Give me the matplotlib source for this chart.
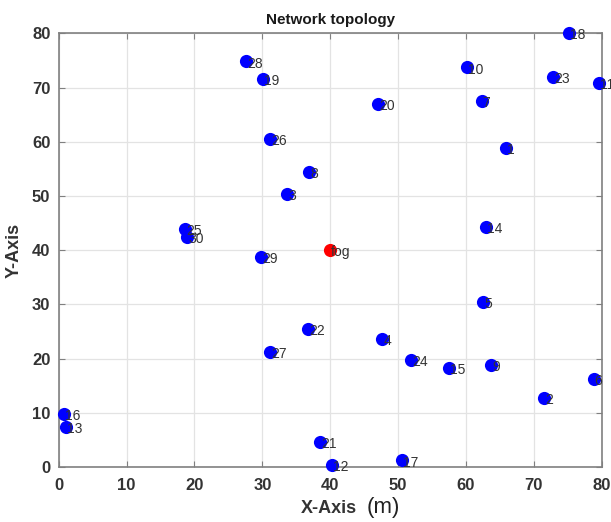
import matplotlib
matplotlib.use("Agg")
import matplotlib.pyplot as plt

# Sensor node positions (m), node i+1 at index i
node_ids = [str(i) for i in range(1, 31)]
node_x = [65.9, 71.5, 33.7, 47.7, 62.5, 78.8, 62.3, 36.9, 63.7, 60.1,
          79.6, 40.2, 1.0, 62.9, 57.5, 0.8, 50.6, 75.2, 30.05, 47.1,
          38.5, 36.7, 72.8, 51.9, 18.6, 31.2, 31.2, 27.6, 29.8, 18.9]
node_y = [58.9, 12.8, 50.4, 23.7, 30.5, 16.3, 67.6, 54.4, 18.8, 73.7,
          70.8, 0.4, 7.4, 44.3, 18.3, 9.7, 1.2, 80.0, 71.6, 66.9,
          4.7, 25.4, 71.9, 19.7, 43.9, 60.5, 21.3, 74.8, 38.7, 42.5]

# Fog node
fog_label = "fog"
fog_x = [40.0]
fog_y = [40.0]

x_ticks = list(range(0, 81, 10))
y_ticks = list(range(0, 81, 10))

plt.rcParams['font.family'] = ['Liberation Sans', 'DejaVu Sans']

fig = plt.figure(figsize=(6.11, 5.22), dpi=100)
ax = fig.add_axes([0.0961, 0.1054, 0.8887, 0.8308])

ax.scatter(node_x, node_y, s=90, color='#0000ff', zorder=3, clip_on=False, linewidths=0)
ax.scatter(fog_x, fog_y, s=90, color='#ff0000', zorder=3, clip_on=False, linewidths=0)

label_color = '#333333'
for name, x, y in zip(node_ids, node_x, node_y):
    ax.annotate(name, (x, y), xytext=(0.8, -1.5), textcoords='offset points',
                ha='left', va='center', fontsize=10, color=label_color,
                zorder=4, annotation_clip=False)
ax.annotate(fog_label, (fog_x[0], fog_y[0]), xytext=(0.6, -1.5), textcoords='offset points',
            ha='left', va='center', fontsize=10, color=label_color,
            zorder=4, annotation_clip=False)

ax.set_xlim(0, 80)
ax.set_ylim(0, 80)
ax.set_xticks(x_ticks)
ax.set_yticks(y_ticks)
ax.grid(True, color='#e3e3e3', linewidth=0.9)
ax.set_axisbelow(True)

for sp in ax.spines.values():
    sp.set_color('#808080')
    sp.set_linewidth(1.2)

ax.tick_params(direction='in', length=4, width=0.8, color='#808080',
               top=True, right=True, labelsize=12, labelcolor='#333333')
ax.tick_params(axis='x', pad=8)
ax.tick_params(axis='y', pad=6)
for lbl in ax.get_xticklabels() + ax.get_yticklabels():
    lbl.set_fontweight('bold')

ax.set_title('Network topology', fontsize=11, fontweight='bold', color='#1a1a1a', pad=7)

# x label: bold name followed by a regular unit
fig.text(0.5845, 0.018, 'X-Axis', fontsize=13, fontweight='bold', color='#333333',
         ha='right', va='baseline')
fig.text(0.600, 0.018, '(m)', fontsize=16, color='#222222', ha='left', va='baseline')

ax.set_ylabel('Y-Axis', fontsize=13, fontweight='bold', color='#333333', labelpad=7)

fig.savefig('out.png', dpi=100)
